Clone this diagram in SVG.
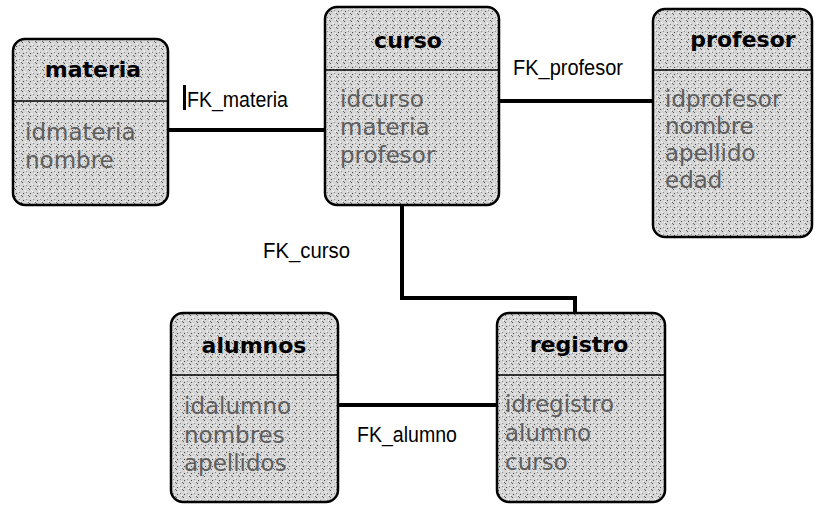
<svg xmlns="http://www.w3.org/2000/svg" width="815" height="511" viewBox="0 0 815 511">
<defs>
<pattern id="stip" width="7" height="7" patternUnits="userSpaceOnUse">
<rect width="7" height="7" fill="#d6d6d6"/>
<rect x="1" y="0" width="1" height="1" fill="#555"/>
<rect x="4" y="2" width="1" height="1" fill="#fff"/>
<rect x="2" y="4" width="1" height="1" fill="#444"/>
<rect x="6" y="5" width="1" height="1" fill="#fff"/>
<rect x="5" y="3" width="1" height="1" fill="#888"/>
<rect x="0" y="6" width="1" height="1" fill="#666"/>
<rect x="3" y="1" width="1" height="1" fill="#eee"/>
</pattern>
</defs>
<style>
.box{fill:url(#stip);stroke:#000;stroke-width:2.5}
.div{stroke:#000;stroke-width:1.5}
.title{font-family:"DejaVu Sans",sans-serif;font-weight:bold;font-size:22px;fill:#000;text-anchor:middle}
.fld{font-family:"DejaVu Sans",sans-serif;font-size:23px;fill:#5e5e5e}
.lbl{font-family:"Liberation Sans",Arial,sans-serif;font-size:22px;fill:#000}
.conn{fill:none;stroke:#000;stroke-width:4}
</style>
<g id="connectors">
<path class="conn" d="M168 130 H325"/>
<path class="conn" d="M499 101 H653"/>
<path class="conn" d="M402 205 V298 H575 V313"/>
<path class="conn" d="M338 405 H497"/>
<path d="M184.5 85 V110" stroke="#000" stroke-width="3"/>
<text class="lbl" x="187" y="107" textLength="101" lengthAdjust="spacingAndGlyphs">FK_materia</text>
<text class="lbl" x="513" y="75" textLength="110" lengthAdjust="spacingAndGlyphs">FK_profesor</text>
<text class="lbl" x="263" y="258" textLength="87" lengthAdjust="spacingAndGlyphs">FK_curso</text>
<text class="lbl" x="357" y="442" textLength="100" lengthAdjust="spacingAndGlyphs">FK_alumno</text>
</g>
<g id="materia">
<rect class="box" x="13" y="39" width="155" height="166" rx="12"/>
<line class="div" x1="13" y1="101" x2="168" y2="101"/>
<text class="title" x="93" y="77">materia</text>
<text class="fld" x="25" y="140">idmateria</text>
<text class="fld" x="25" y="168">nombre</text>
</g>
<g id="curso">
<rect class="box" x="325" y="7" width="174" height="198" rx="12"/>
<line class="div" x1="325" y1="70" x2="499" y2="70"/>
<text class="title" x="408" y="48">curso</text>
<text class="fld" x="340" y="107">idcurso</text>
<text class="fld" x="340" y="135">materia</text>
<text class="fld" x="340" y="163">profesor</text>
</g>
<g id="profesor">
<rect class="box" x="653" y="9" width="159" height="228" rx="12"/>
<line class="div" x1="653" y1="70" x2="812" y2="70"/>
<text class="title" x="743" y="47">profesor</text>
<text class="fld" x="665" y="107">idprofesor</text>
<text class="fld" x="665" y="134">nombre</text>
<text class="fld" x="665" y="161">apellido</text>
<text class="fld" x="665" y="188">edad</text>
</g>
<g id="alumnos">
<rect class="box" x="171" y="313" width="167" height="189" rx="12"/>
<line class="div" x1="171" y1="375" x2="338" y2="375"/>
<text class="title" x="254" y="353">alumnos</text>
<text class="fld" x="184" y="414">idalumno</text>
<text class="fld" x="184" y="443">nombres</text>
<text class="fld" x="184" y="471">apellidos</text>
</g>
<g id="registro">
<rect class="box" x="497" y="313" width="168" height="189" rx="12"/>
<line class="div" x1="497" y1="375" x2="665" y2="375"/>
<text class="title" x="579" y="352">registro</text>
<text class="fld" x="505" y="412">idregistro</text>
<text class="fld" x="505" y="441">alumno</text>
<text class="fld" x="505" y="470">curso</text>
</g>
</svg>
